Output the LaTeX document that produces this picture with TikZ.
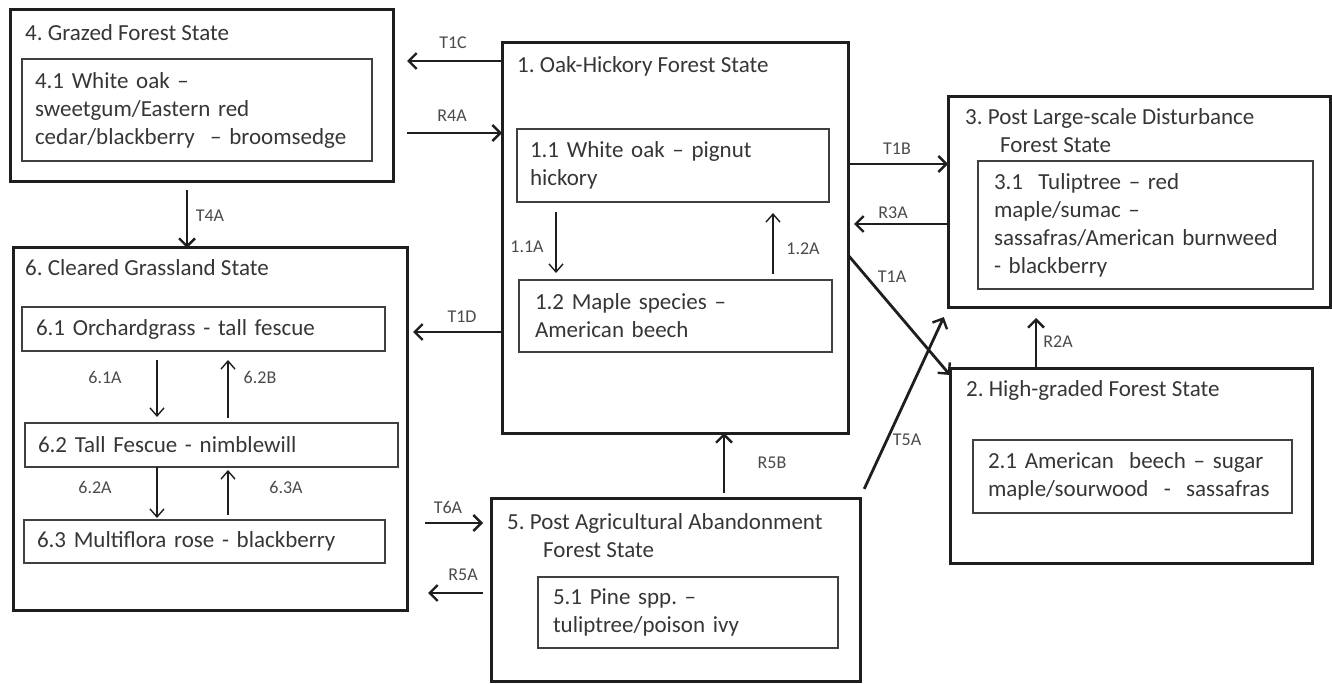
\documentclass[tikz,border=0pt]{standalone}
\usepackage{fontspec}
\setmainfont{Carlito}
\usetikzlibrary{arrows.meta,calc}
\frenchspacing
\definecolor{txt}{HTML}{363636}
\definecolor{lbl}{HTML}{4A4A4A}
\definecolor{ln}{HTML}{1E1E1E}
\tikzset{
  outerbox/.style={draw=ln,line width=3pt,inner sep=0pt,outer sep=0pt,anchor=north west},
  innerbox/.style={draw=ln!85,line width=1.6pt,inner xsep=13pt,inner ysep=0pt,outer sep=0pt,anchor=north west,align=left,text=txt,font=\fontsize{23}{28}\selectfont},
  title/.style={anchor=west,inner sep=0pt,align=left,text=txt,font=\fontsize{23}{28}\selectfont},
  lab/.style={inner sep=0pt,text=lbl,font=\fontsize{18}{20}\selectfont},
  bigarr/.style={draw=ln,line width=2.8pt,-{Straight Barb[length=8pt,width=16pt,line width=2.4pt]}},
  smarr/.style={draw=ln,line width=1.4pt,-{Straight Barb[length=8pt,width=14pt,line width=1.4pt]}}
}
\begin{document}
\begin{tikzpicture}[x=1pt,y=-1pt]
\useasboundingbox (0,0) rectangle (1332,684);
% outer boxes
\node[outerbox,minimum width=383pt,minimum height=172pt] (b4) at (10,10) {};
\node[outerbox,minimum width=346pt,minimum height=390pt] (b1) at (502,43) {};
\node[outerbox,minimum width=382pt,minimum height=211pt] (b3) at (948,97) {};
\node[outerbox,minimum width=362pt,minimum height=195pt] (b2) at (950,368) {};
\node[outerbox,minimum width=369pt,minimum height=183pt] (b5) at (491,498) {};
\node[outerbox,minimum width=394pt,minimum height=362pt] (b6) at (13,248) {};
% titles
\node[title] (t4) at (25,33) {4. Grazed Forest State};
\node[title] (t1) at (517,66) {1. Oak-Hickory Forest State};
\node[title] (t3) at (965,131) {3. Post Large-scale Disturbance\\\hspace*{35pt}Forest State};
\node[title] (t2) at (966,390) {2. High-graded Forest State};
\node[title] (t5) at (507,536) {5. Post Agricultural Abandonment\\\hspace*{36pt}Forest State};
\node[title] (t6) at (25,268) {6. Cleared Grassland State};
% inner boxes
\node[innerbox,text width=324pt,minimum height=102pt] (b41) at (22,59) {4.1 White oak –\\sweetgum/Eastern red\\cedar/blackberry\ \ – broomsedge};
\node[innerbox,text width=286pt,minimum height=73pt] (b11) at (517,129) {1.1 White oak – pignut\\hickory};
\node[innerbox,inner xsep=16pt,text width=281pt,minimum height=72pt] (b12) at (519,280) {1.2 Maple species –\\American beech};
\node[innerbox,inner xsep=16pt,text width=303pt,minimum height=128pt] (b31) at (978,161) {3.1\ \ Tuliptree – red\\maple/sumac –\\sassafras/American burnweed\\- blackberry};
\node[innerbox,inner xsep=15pt,text width=289pt,minimum height=73pt] (b21) at (973,440) {2.1 American\ \ beech – sugar\\maple/sourwood\ \ -\ \ sassafras};
\node[innerbox,inner xsep=15pt,text width=270pt,minimum height=71pt] (b51) at (538,577) {5.1 Pine spp. –\\tuliptree/poison ivy};
\node[innerbox,inner xsep=14pt,text width=335pt,minimum height=44pt] (b61) at (22,307) {6.1 Orchardgrass - tall fescue};
\node[innerbox,inner xsep=13pt,text width=347pt,minimum height=44pt] (b62) at (25,423) {6.2 Tall Fescue - nimblewill};
\node[innerbox,inner xsep=13pt,text width=335pt,minimum height=43pt] (b63) at (24,520) {6.3 Multiflora rose - blackberry};
% big connectors
\draw[bigarr] (b1.west |- 0,61) -- ($(b4.east |- 0,61)+(14,0)$);
\draw[bigarr] ($(b4.east |- 0,133)+(14,0)$) -- (b1.west |- 0,133);
\draw[bigarr] (b1.west |- 0,332) -- ($(b6.east |- 0,332)+(6,0)$);
\draw[bigarr] (b1.east |- 0,164) -- (b3.west |- 0,164);
\draw[bigarr] (b3.west |- 0,224) -- ($(b1.east |- 0,224)+(6,0)$);
\draw[bigarr] (b1.east |- 0,255) -- (b2.west |- 0,375);
\draw[bigarr,shorten <=10pt,shorten >=10pt] (b5.north east) -- (b3.south west);
\draw[bigarr] (b2.north -| 1036,0) -- ($(b3.south -| 1036,0)+(0,10)$);
\draw[bigarr] ($(b5.north -| 724,0)+(0,-5)$) -- (b1.south -| 724,0);
\draw[bigarr] ($(b6.east |- 0,523)+(18,0)$) -- ($(b5.west |- 0,523)+(-8,0)$);
\draw[bigarr] ($(b5.west |- 0,593)+(-8,0)$) -- ($(b6.east |- 0,593)+(21,0)$);
\draw[bigarr] ($(b4.south -| 187,0)+(0,8)$) -- (b6.north -| 187,0);
% small connectors
\draw[smarr] ($(b11.south -| 556,0)+(0,10)$) -- ($(b12.north -| 556,0)+(0,-7)$);
\draw[smarr] ($(b12.north -| 773,0)+(0,-6)$) -- ($(b11.south -| 773,0)+(0,11)$);
\draw[smarr] ($(b61.south -| 157,0)+(0,9)$) -- ($(b62.north -| 157,0)+(0,-6)$);
\draw[smarr] ($(b62.north -| 228,0)+(0,-5)$) -- ($(b61.south -| 228,0)+(0,9)$);
\draw[smarr] (b62.south -| 157,0) -- ($(b63.north -| 157,0)+(0,-2)$);
\draw[smarr] ($(b63.north -| 228,0)+(0,-5)$) -- ($(b62.south -| 228,0)+(0,3)$);
% labels
\node[lab] (lT1C) at (453,43) {T1C};
\node[lab] (lR4A) at (452,116) {R4A};
\node[lab] (lT1D) at (462,317) {T1D};
\node[lab] (lT1B) at (897,149) {T1B};
\node[lab] (lR3A) at (893,213) {R3A};
\node[lab] (lT1A) at (892,277) {T1A};
\node[lab] (lT5A) at (907,440) {T5A};
\node[lab] (lR2A) at (1058,342) {R2A};
\node[lab] (lR5B) at (772,463) {R5B};
\node[lab] (lT6A) at (448,507) {T6A};
\node[lab] (lR5A) at (463,575) {R5A};
\node[lab] (lT4A) at (210,216) {T4A};
\node[lab] (l11A) at (527,247) {1.1A};
\node[lab] (l12A) at (803,249) {1.2A};
\node[lab] (l61A) at (105,377) {6.1A};
\node[lab] (l62B) at (260,377) {6.2B};
\node[lab] (l62A) at (95,487) {6.2A};
\node[lab] (l63A) at (286,487) {6.3A};
\end{tikzpicture}
\end{document}
